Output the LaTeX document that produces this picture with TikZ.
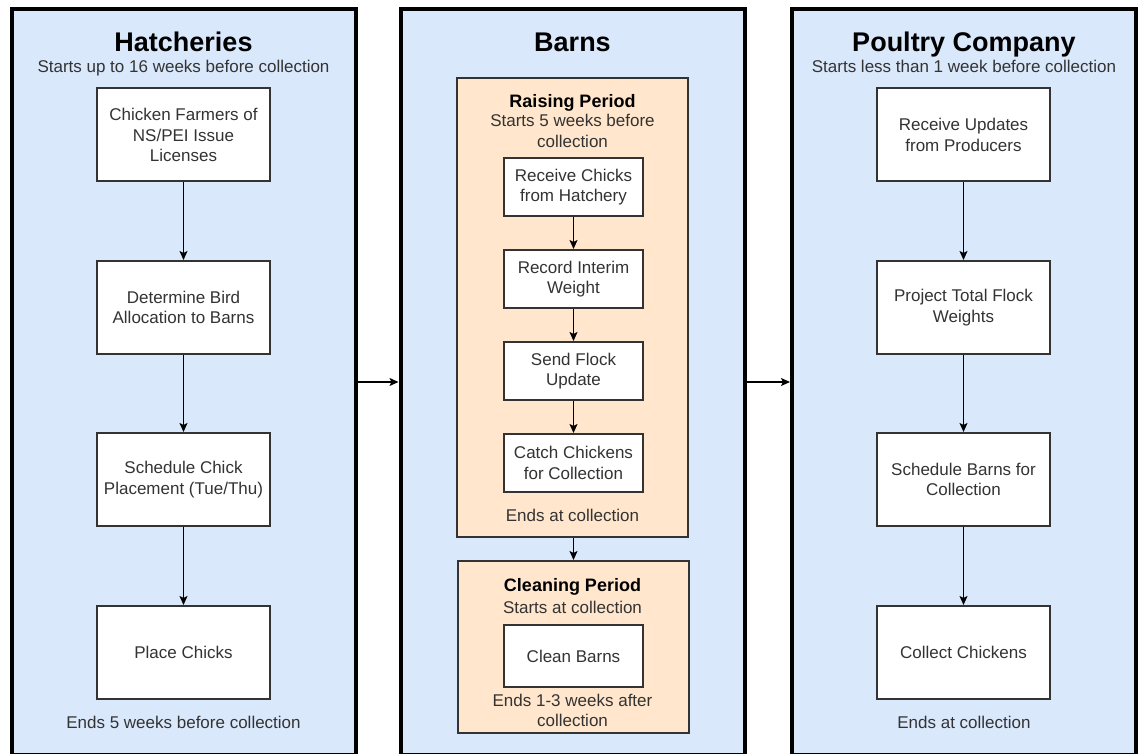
\documentclass[tikz,border=0pt]{standalone}
\usepackage{fontspec}
\setmainfont{Liberation Sans}
\usetikzlibrary{arrows.meta}
\definecolor{panelblue}{HTML}{DAE8FC}
\definecolor{periodorange}{HTML}{FFE6CC}
\definecolor{txt}{HTML}{333333}
\definecolor{boxline}{HTML}{333333}
\begin{document}
\begin{tikzpicture}[x=1pt,y=-1pt,
 panel/.style={draw=black, line width=4pt, fill=panelblue, minimum width=344pt, minimum height=746pt, inner sep=0pt},
 period/.style={draw=boxline, line width=2pt, fill=periodorange, minimum width=231pt, inner sep=0pt},
 stepbox/.style={draw=boxline, line width=2pt, fill=white, minimum width=173pt, minimum height=93pt, align=center, text=txt, font=\fontsize{17}{20.5}\selectfont, inner sep=0pt},
 smallbox/.style={stepbox, minimum width=139pt, minimum height=58pt},
 paneltitle/.style={font=\fontsize{27}{30}\selectfont\bfseries, text=black, anchor=base},
 subtext/.style={font=\fontsize{17}{20.5}\selectfont, text=txt, align=center},
 periodtitle/.style={font=\fontsize{18}{20}\selectfont\bfseries, text=black, anchor=base},
 arr/.style={-{Stealth[length=9pt,width=8pt,inset=2pt]}, line width=1.2pt, draw=black},
]
\useasboundingbox (0,0) rectangle (1138,754);

% panels
\node[panel] (hat) at (183.5,382) {};
\node[panel] (barn) at (572.5,382) {};
\node[panel] (poul) at (964,382) {};

% Hatcheries
\node[paneltitle] (hatT) at (183.5,52) {Hatcheries};
\node[subtext, anchor=base] (hatS) at (183.5,73) {Starts up to 16 weeks before collection};
\node[stepbox] (h1) at (183.5,135) {Chicken Farmers of\\NS/PEI Issue\\Licenses};
\node[stepbox] (h2) at (183.5,307.5) {Determine Bird\\Allocation to Barns};
\node[stepbox] (h3) at (183.5,479.5) {Schedule Chick\\Placement (Tue/Thu)};
\node[stepbox] (h4) at (183.5,652.5) {Place Chicks};
\node[subtext] (hatE) at (183.5,722) {Ends 5 weeks before collection};

% Barns
\node[paneltitle] (barnT) at (572.5,52) {Barns};
\node[period, minimum height=459pt] (raise) at (572.5,307.5) {};
\node[periodtitle] (raiseT) at (572.5,108) {Raising Period};
\node[subtext] (raiseS) at (572.5,131) {Starts 5 weeks before\\collection};
\node[smallbox] (m1) at (573.5,187) {Receive Chicks\\from Hatchery};
\node[smallbox] (m2) at (573.5,279) {Record Interim\\Weight};
\node[smallbox] (m3) at (573.5,371) {Send Flock\\Update};
\node[smallbox] (m4) at (573.5,463) {Catch Chickens\\for Collection};
\node[subtext] (raiseE) at (572.5,515) {Ends at collection};
\node[period, minimum height=172pt] (clean) at (573,647) {};
\node[periodtitle] (cleanT) at (572.5,591) {Cleaning Period};
\node[subtext] (cleanS) at (572.5,607) {Starts at collection};
\node[smallbox, minimum height=62pt] (m5) at (573.5,656) {Clean Barns};
\node[subtext] (cleanE) at (572.5,710.5) {Ends 1-3 weeks after\\collection};

% Poultry Company
\node[paneltitle] (poulT) at (964,52) {Poultry Company};
\node[subtext, anchor=base] (poulS) at (964,73) {Starts less than 1 week before collection};
\node[stepbox] (p1) at (963.5,135) {Receive Updates\\from Producers};
\node[stepbox] (p2) at (963.5,307.5) {Project Total Flock\\Weights};
\node[stepbox] (p3) at (963.5,479.5) {Schedule Barns for\\Collection};
\node[stepbox] (p4) at (963.5,652.5) {Collect Chickens};
\node[subtext] (poulE) at (964,722) {Ends at collection};

% connectors
\draw[arr] (h1) -- (h2);
\draw[arr] (h2) -- (h3);
\draw[arr] (h3) -- (h4);
\draw[arr] (m1) -- (m2);
\draw[arr] (m2) -- (m3);
\draw[arr] (m3) -- (m4);
\draw[arr] (raise.south -| m1) -- (clean.north -| m1);
\draw[arr] (p1) -- (p2);
\draw[arr] (p2) -- (p3);
\draw[arr] (p3) -- (p4);
\draw[arr] (hat) -- (barn);
\draw[arr] (barn) -- (poul);
\end{tikzpicture}
\end{document}
